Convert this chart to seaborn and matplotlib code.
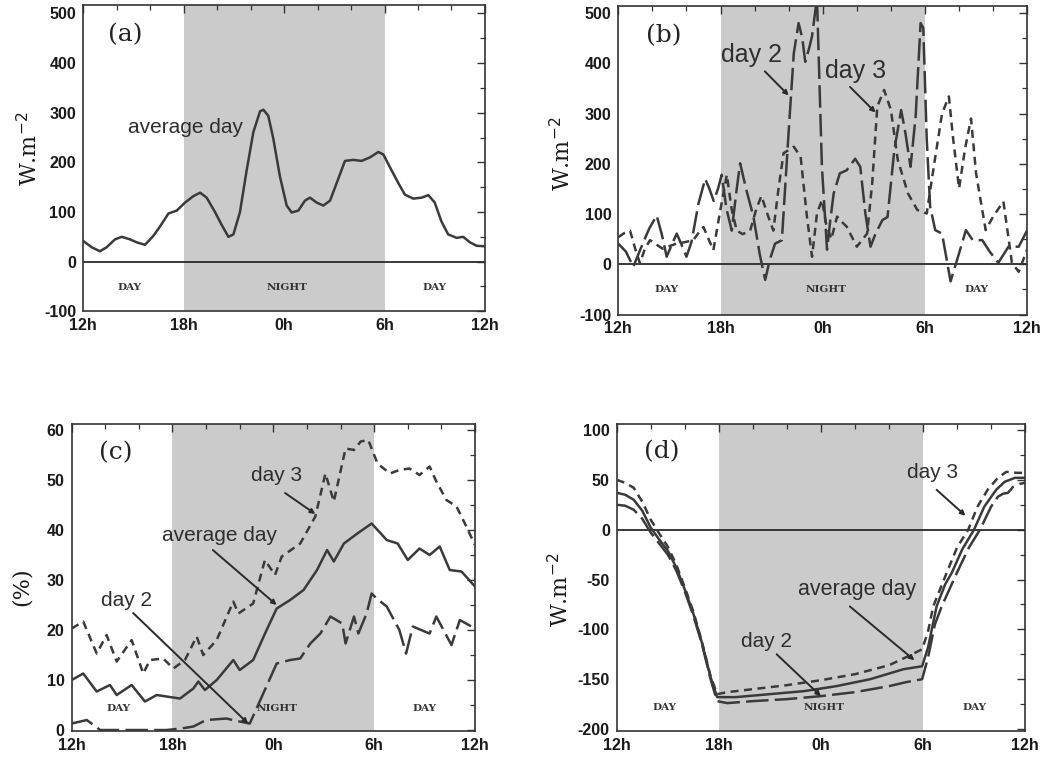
import numpy as np
import pandas as pd
import matplotlib
matplotlib.use("Agg")
import matplotlib.pyplot as plt
from matplotlib.ticker import MultipleLocator
import seaborn as sns

# ---------------- data (hours after 12h noon) ----------------
tick_pos = [0, 6, 12, 18, 24]
tick_labels = ["12h", "18h", "0h", "6h", "12h"]

# (a) average day
a_avg_h = [0, 0.52, 1.01, 1.41, 1.91, 2.31, 2.8, 3.2, 3.7, 4.2, 4.6, 5.1, 5.6,
           6.09, 6.59, 6.99, 7.38, 7.88, 8.28, 8.68, 8.98, 9.37, 9.77, 10.17,
           10.57, 10.77, 11.06, 11.36, 11.76, 12.16, 12.46, 12.86, 13.25, 13.55,
           13.95, 14.35, 14.75, 15.14, 15.64, 16.14, 16.63, 17.13, 17.63, 17.93,
           18.33, 18.83, 19.22, 19.72, 20.22, 20.62, 21.0, 21.4, 21.8, 22.3,
           22.7, 23.1, 23.5, 24]
a_avg_v = [42, 29, 21, 29, 45, 50, 45, 39, 34, 52, 71, 97, 103,
           119, 132, 139, 129, 100, 74, 50, 55, 100, 184, 261,
           303, 306, 294, 248, 171, 113, 99, 103, 123, 129,
           119, 113, 123, 158, 203, 205, 203, 210, 221, 216,
           190, 158, 135, 127, 129, 134, 119, 81, 55, 48,
           50, 39, 32, 31]

# (b) day 2 and day 3
b_d2_h = [0, 0.45, 0.88, 1.3, 1.8, 2.25, 2.55, 2.84, 3.15, 3.43, 3.7, 4.0, 4.3,
          4.7, 5.1, 5.35, 5.6, 5.85, 6.07, 6.35, 6.66, 6.95, 7.15, 7.5, 7.93,
          8.3, 8.62, 8.9, 9.2, 9.6, 9.99, 10.3, 10.58, 10.8, 10.97, 11.2, 11.37,
          11.66, 11.95, 12.25, 12.45, 12.64, 13.0, 13.4, 13.9, 14.2, 14.5, 14.8,
          15.1, 15.5, 15.8, 16.2, 16.6, 16.85, 17.15, 17.45, 17.74, 17.9, 18.1,
          18.3, 18.6, 19.0, 19.5, 20.0, 20.4, 20.8, 21.36, 21.8, 22.3, 22.9,
          23.5, 24]
b_d2_v = [41, 25, -5, 30, 70, 97, 60, 15, 40, 61, 40, 15, 45,
          120, 170, 150, 126, 150, 178, 110, 67, 150, 201, 150, 95,
          20, -31, 10, 41, 48, 260, 420, 480, 450, 403, 430, 454,
          530, 194, 29, 90, 141, 181, 187, 210, 194, 101, 35,
          61, 88, 94, 228, 307, 261, 194, 294, 480, 470, 250,
          115, 68, 61, -34, 22, 68, 48, 48, 25, 3, 35,
          35, 68]
b_d3_h = [0, 0.35, 0.69, 1.0, 1.27, 1.55, 1.86, 2.2, 2.6, 3.0, 3.4, 3.9, 4.4,
          4.7, 5.0, 5.3, 5.58, 6.0, 6.37, 6.65, 6.95, 7.3, 7.74, 8.1, 8.4,
          8.75, 9.1, 9.4, 9.7, 10.3, 10.7, 11.07, 11.37, 11.66, 11.95, 12.2,
          12.5, 12.84, 13.1, 13.4, 14.0, 14.6, 14.9, 15.2, 15.6, 16.0, 16.4,
          17.0, 17.55, 18.1, 18.5, 19.0, 19.4, 19.65, 20.0, 20.35, 20.7, 21.0,
          21.56, 22.0, 22.6, 23.1, 23.5, 24]
b_d3_v = [54, 62, 67, 30, 2, 30, 48, 40, 31, 36, 41, 44, 48,
          62, 74, 50, 28, 110, 178, 110, 67, 60, 67, 110, 136,
          100, 67, 150, 221, 234, 214, 95, 15, 101, 128, 80,
          50, 95, 85, 75, 35, 61, 161, 314, 347, 307, 208,
          141, 108, 101, 191, 300, 334, 250, 151, 230, 290, 180,
          68, 95, 125, 3, -15, 30]

# (c) percentages
c_avg_h = [0, 0.69, 1.49, 2.28, 2.68, 3.57, 4.36, 5.06, 5.65, 6.45, 7.24, 7.54,
           7.93, 8.63, 9.62, 10.0, 10.8, 11.6, 12.2, 13.0, 13.8, 14.6, 15.2,
           15.6, 16.2, 17.0, 17.85, 18.75, 19.4, 20.0, 20.7, 21.3, 21.9, 22.5,
           23.2, 24]
c_avg_v = [10, 11.3, 7.7, 9, 7, 9, 5.7, 7, 6.7, 6.3, 8.3, 9.7,
           8, 10, 14, 12, 14, 20, 24.3, 26, 28, 32, 36,
           33.7, 37.3, 39.3, 41.3, 38, 37.3, 34, 36.3, 35, 36.7, 32,
           31.7, 28.7]
c_d3_h = [0, 0.69, 1.49, 2.08, 2.68, 3.57, 4.26, 4.66, 5.45, 6.05, 6.74, 7.44,
          7.83, 8.63, 9.62, 9.92, 10.8, 11.5, 12.1, 12.5, 13.6, 14.5, 15.1,
          15.6, 16.3, 16.8, 17.2, 17.65, 18.2, 18.94, 19.5, 20.1, 20.7, 21.3,
          21.7, 22.3, 22.9, 23.4, 24]
c_d3_v = [20.3, 21.7, 15.3, 19, 13.7, 18, 11.3, 14, 14.3, 12.3, 14, 18.7,
          15, 18, 25.7, 23.3, 25.3, 34, 31, 34.7, 37.3, 42.7, 51.3,
          45.7, 56.3, 56, 57.7, 58, 53.3, 51.3, 52, 52.3, 51, 52.7,
          49.7, 46, 44.7, 41.3, 37]
c_d2_h = [0, 0.9, 1.7, 3.7, 5.65, 6.5, 7.24, 8.0, 9.2, 10.0, 10.6, 11.4, 12.2,
          13.0, 13.6, 14.2, 14.8, 15.4, 16.1, 16.3, 16.8, 17.06, 17.55, 17.85,
          18.15, 18.75, 19.5, 19.9, 20.3, 21.3, 21.7, 22.6, 23.1, 24]
c_d2_v = [1.3, 2, 0, 0, 0, 0.3, 0.7, 2, 2.3, 1.7, 1.3, 7.3, 13.3,
          14, 14.3, 17.3, 19.3, 22.7, 21.3, 17.3, 22.7, 19.3, 23.3, 27.3,
          26.3, 24.7, 20, 15.3, 20.7, 19.3, 22.7, 17, 22, 20.3]

# (d) net radiation
d_avg_h = [0, 0.5, 1, 1.5, 2, 2.5, 3, 3.5, 4, 4.5, 5, 5.5, 5.9, 7, 9, 11, 12.9,
           14.9, 16.85, 17.95, 18.3, 18.8, 19.3, 19.7, 20.3, 21.0, 21.6, 22.3,
           22.8, 23.4, 24]
d_avg_v = [37, 35, 30, 19, 2, -10, -21, -38, -60, -84, -113, -147, -168, -168,
           -165, -162, -157, -150, -140, -137, -118, -77, -55, -43, -20, 0, 23,
           40, 48, 52, 52]
d_d3_h = [0, 0.5, 1, 1.5, 2, 2.5, 3, 3.5, 4, 4.5, 5, 5.5, 5.9, 6.5, 8, 10, 12,
          14, 16, 17, 17.95, 18.3, 18.6, 19.4, 20.0, 20.66, 21.2, 21.8, 22.4,
          22.9, 23.5, 24]
d_d3_v = [50, 47, 42, 28, 10, -4, -17, -35, -58, -82, -112, -146, -165, -163,
          -160, -156, -151, -145, -136, -128, -120, -102, -77, -43, -18, 0, 23,
          40, 52, 58, 57, 57]
d_d2_h = [0, 0.5, 1, 1.5, 2, 2.5, 3, 3.5, 4, 4.5, 5, 5.5, 5.9, 6.5, 8, 10, 12,
          14, 16, 17, 17.95, 18.3, 18.7, 19.1, 20.0, 20.7, 21.35, 22.0, 22.4,
          22.7, 23.0, 23.3, 23.7, 24]
d_d2_v = [25, 24, 20, 11, -3, -14, -25, -41, -62, -86, -114, -149, -172, -174,
          -172, -170, -167, -163, -157, -153, -150, -128, -95, -77, -43, -18, 0,
          23, 33, 36, 37, 43, 46, 47]

# ---------------- styling ----------------
sns.set_style("white")
plt.rcParams["font.family"] = ["Liberation Sans", "DejaVu Sans"]
plt.rcParams["axes.unicode_minus"] = False

LINE = "#3a3a3a"
SHADE = "#cbcbcb"
TXT = "#2e2e2e"
DASH_D2 = (9, 2.5)
DASH_D3 = (3.2, 2.2)

fig = plt.figure(figsize=(10.43, 7.63), dpi=100)
fig.patch.set_facecolor("white")

axes_pos = {
    "a": [0.0796, 0.5920, 0.3854, 0.4014],
    "b": [0.5928, 0.5878, 0.3921, 0.4043],
    "c": [0.0687, 0.0419, 0.3867, 0.4024],
    "d": [0.5913, 0.0419, 0.3915, 0.4024],
}
ylims = {"a": (-100, 517), "b": (-100, 514), "c": (-0.2, 61.2), "d": (-202, 106)}
yticks = {"a": [-100, 0, 100, 200, 300, 400, 500],
          "b": [-100, 0, 100, 200, 300, 400, 500],
          "c": [0, 10, 20, 30, 40, 50, 60],
          "d": [-200, -150, -100, -50, 0, 50, 100]}
yminor = {"a": 50, "b": 50, "c": 5, "d": 25}
ylab = {"a": "W.m$^{-2}$", "b": "W.m$^{-2}$", "c": "(%)", "d": "W.m$^{-2}$"}
ylab_xy = {"a": (-0.102, 0.53), "b": (-0.106, 0.52), "c": (-0.096, 0.47), "d": (-0.107, 0.46)}
daynight_y = {"a": -52, "b": -51, "c": 4.4, "d": -178}
plabel_xy = {"a": (1.5, 458), "b": (1.6, 455), "c": (1.6, 55.5), "d": (1.6, 78)}

axs = {}
for k, pos in axes_pos.items():
    ax = fig.add_axes(pos)
    axs[k] = ax
    ax.axvspan(6, 18, color=SHADE, lw=0, zorder=0)
    ax.set_xlim(0, 24)
    ax.set_ylim(*ylims[k])
    ax.set_xticks(tick_pos)
    ax.set_xticklabels(tick_labels)
    ax.xaxis.set_minor_locator(MultipleLocator(2))
    ax.set_yticks(yticks[k])
    ax.yaxis.set_minor_locator(MultipleLocator(yminor[k]))
    ax.tick_params(which="both", direction="in", top=True, right=True,
                   colors="#333333", labelcolor="#1a1a1a")
    ax.tick_params(which="major", length=6, width=1.0, labelsize=11.5, pad=5)
    ax.tick_params(which="minor", length=3.5, width=0.9)
    for lab in ax.get_xticklabels() + ax.get_yticklabels():
        lab.set_fontweight("bold")
    for s in ax.spines.values():
        s.set_color("#333333")
        s.set_linewidth(1.2)
    if k != "c":
        ax.axhline(0, color="#2a2a2a", lw=1.3, zorder=2)
    for xx, t in [(2.8, "DAY"), (12.2, "NIGHT"), (21.0, "DAY")]:
        ax.text(xx, daynight_y[k], t, ha="center", va="center", fontsize=7.5,
                family="serif", fontweight="bold", color="#333333", zorder=3)
    ax.text(*plabel_xy[k], f"({k})", ha="left", va="center", fontsize=18,
            family="serif", color="#222222", zorder=3)


def draw(ax, h, v, dashes=None, lw=1.8):
    df = pd.DataFrame({"h": h, "v": v})
    sns.lineplot(data=df, x="h", y="v", ax=ax, color=LINE, lw=lw,
                 estimator=None, sort=False, legend=False, zorder=4)
    ln = ax.lines[-1]
    ln.set_solid_joinstyle("round")
    ln.set_dash_joinstyle("round")
    if dashes is not None:
        ln.set_dashes(dashes)


def arrow(ax, start, end):
    ax.annotate("", xy=end, xytext=start,
                arrowprops=dict(arrowstyle="-|>", lw=1.4, color="#2a2a2a",
                                mutation_scale=7, shrinkA=0, shrinkB=0),
                zorder=5)


def label(ax, xy, s, size=15):
    ax.text(*xy, s, ha="center", va="center", fontsize=size, color=TXT, zorder=5)


# (a)
draw(axs["a"], a_avg_h, a_avg_v)
label(axs["a"], (6.1, 271), "average day")

# (b)
draw(axs["b"], b_d2_h, b_d2_v, DASH_D2)
draw(axs["b"], b_d3_h, b_d3_v, DASH_D3)
label(axs["b"], (7.8, 416), "day 2", 18)
arrow(axs["b"], (8.6, 384), (10.0, 336))
label(axs["b"], (13.9, 385), "day 3", 18)
arrow(axs["b"], (13.6, 353), (15.1, 302))

# (c)
draw(axs["c"], c_avg_h, c_avg_v)
draw(axs["c"], c_d2_h, c_d2_v, DASH_D2)
draw(axs["c"], c_d3_h, c_d3_v, DASH_D3)
label(axs["c"], (12.2, 51), "day 3")
arrow(axs["c"], (12.7, 47.4), (14.5, 43.2))
label(axs["c"], (8.8, 39), "average day")
arrow(axs["c"], (8.4, 36), (12.2, 25))
label(axs["c"], (3.25, 26), "day 2")
arrow(axs["c"], (3.66, 23.4), (10.5, 1.3))

# (d)
draw(axs["d"], d_avg_h, d_avg_v)
draw(axs["d"], d_d2_h, d_d2_v, DASH_D2)
draw(axs["d"], d_d3_h, d_d3_v, DASH_D3)
label(axs["d"], (18.55, 57), "day 3")
arrow(axs["d"], (18.8, 40), (20.5, 14))
label(axs["d"], (14.1, -60), "average day", 15.5)
arrow(axs["d"], (13.7, -77), (17.5, -131))
label(axs["d"], (8.8, -112), "day 2")
arrow(axs["d"], (9.4, -125), (12.0, -167))

# y-axis labels set last so the seaborn calls do not overwrite them
for k, ax in axs.items():
    ax.set_xlabel("")
    ax.set_ylabel(ylab[k], fontsize=16, family="serif", color="#1a1a1a")
    ax.yaxis.set_label_coords(*ylab_xy[k])

fig.savefig("out.png", dpi=100, facecolor="white")
